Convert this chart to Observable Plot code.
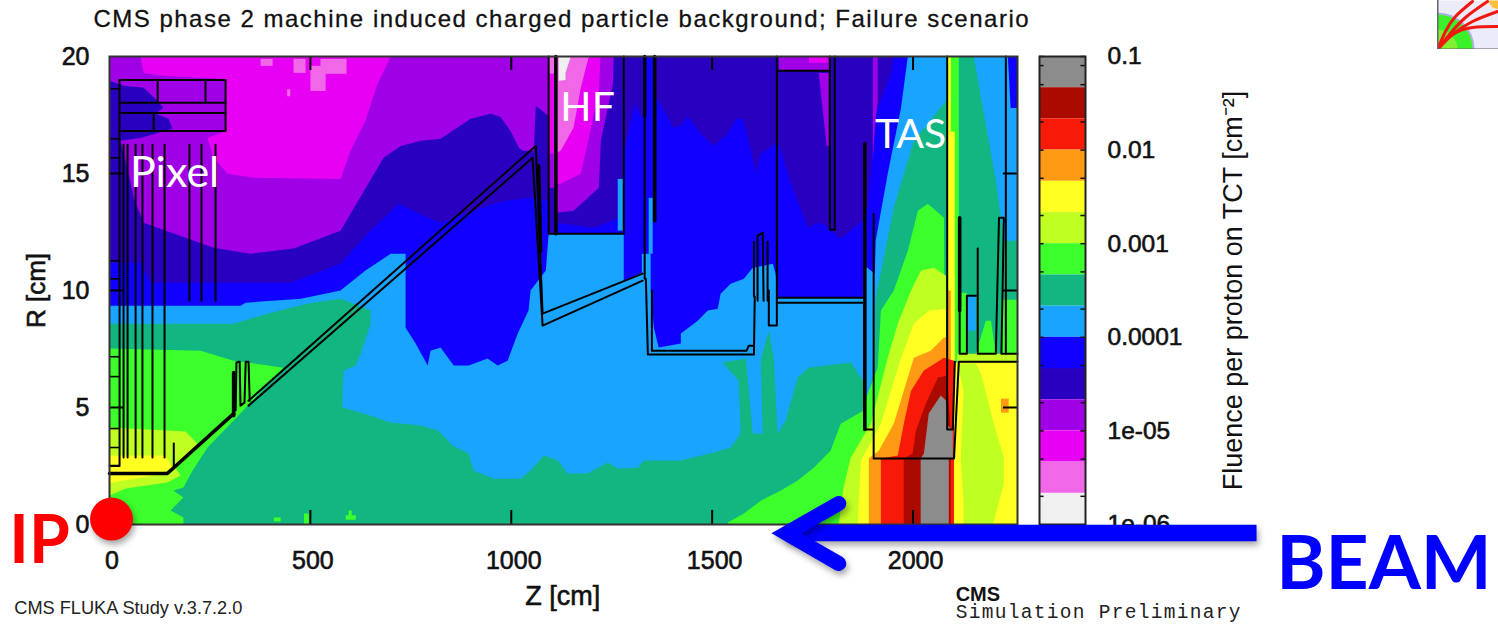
<!DOCTYPE html>
<html><head><meta charset="utf-8">
<script src="https://cdn.jsdelivr.net/npm/d3@7"></script>
<script src="https://cdn.jsdelivr.net/npm/@observablehq/plot@0.6"></script>
<style>
html,body{margin:0;padding:0;background:#fff;width:1498px;height:624px;overflow:hidden}
svg{position:absolute;top:0}
.ax text{stroke:#111;stroke-width:.6px}
.ttl text{letter-spacing:1.5px;stroke:#111;stroke-width:.3px}
.mono text{letter-spacing:1.3px}
.shadow{filter:drop-shadow(2px 4px 3px rgba(0,0,0,.35))}
</style></head><body>
<div id="bar"></div><div id="logo"></div><div id="main"></div>
<script>
// fluence bands, high to low
const GRAY="#8c8c8c",DKRED="#aa0a00",RED="#f81a08",ORANGE="#ff9a14",YELLOW="#ffff22",YG="#bfff22",GREEN="#3cff2c",TEAL="#12b680",LBLUE="#18a4ff",BLUE="#1000ff",NAVY="#2a00c0",PURPLE="#a000e6",MAGENTA="#e800f4",PINK="#f068e8",WHITE="#f0f0f0";
const bandColors=[GRAY,DKRED,RED,ORANGE,YELLOW,YG,GREEN,TEAL,LBLUE,BLUE,NAVY,PURPLE,MAGENTA,PINK,WHITE];
const bandEdges=[0.1,0.0464,0.0215,0.01,0.00464,0.00215,0.001,0.000464,0.000215,0.0001,4.64e-5,2.15e-5,1e-5,4.64e-6,2.15e-6,1e-6];
const barTicks=[0.1,0.08,0.05,0.02,0.01,0.005,0.002,0.001,0.0005,0.0002,0.0001,5e-5,2e-5,1e-5,5e-6,2e-6];
const barLabelValues=[0.1,0.01,0.001,0.0001,1e-5,1e-6];
const barLabels=["0.1","0.01","0.001","0.0001","1e-05","1e-06"];
const xTicks=[0,500,1000,1500,2000], yTicks=[0,5,10,15,20];
const box=(a,b,c,d)=>[[a,b],[c,b],[c,d],[a,d]];

// regions in [Z cm, R cm]
const blueA=[[0,20],[1093,20],[1093,12.43],[1086,10.85],[1048,10],[1043,9.14],[1016,8.16],[991,7],[966,6.79],[941,7.09],[894,6.79],[857,6.79],[824,7.56],[799,7.43],[792,6.79],[762,7.73],[737,8.41],[737,11.57],[700,11.57],[637,10.85],[575,10],[476,9.65],[339,9.48],[326,9.35],[0,9.35]];
const blueB=[[1280,20],[1987,20],[1970,17.8],[1937,14.99],[1907,12.13],[1905,10.72],[1877,11.1],[1875,9.69],[1663,9.69],[1658,10.72],[1651,11.14],[1601,10.97],[1579,10.5],[1546,10.29],[1521,9.86],[1514,9.22],[1489,9.14],[1464,8.71],[1422,8.16],[1422,7.73],[1367,7.56],[1355,8.41],[1347,10],[1347,11.57],[1325,11.57],[1325,10.76],[1280,10.42]];
const magentaTop=box(77,14,700,20);
const purpleTop=[[0,20],[77,20],[85,19.3],[139,19.17],[289,19.04],[289,16.82],[244,16.52],[259,15.67],[294,14.99],[359,14.82],[575,14.77],[600,15.97],[637,17.25],[667,18.83],[700,20],[1093,20],[1093,15.12],[949,17.04],[774,15.97],[682,15.33],[575,12.13],[458,11.49],[351,11.27],[85,12.55],[0,15.97]];
const pinkA=box(376,19.6,406,19.9);
const pinkB=box(458,19.3,488,19.9);
const pinkC=box(500,18.53,538,19.6);
const pinkD=box(525,19.26,590,19.9);
const pinkE=box(442,18.3,450,18.6);
const navyLeft=[[0,18.96],[35,18.75],[85,18.66],[120,18.1],[134,17.81],[115,17.55],[147,17.34],[157,16.91],[77,16.52],[27,16.4],[45,15.24],[60,13.96],[85,12.9],[259,11.83],[351,11.57],[458,11.79],[575,12.55],[682,15.67],[725,16.18],[774,16.4],[824,16.48],[899,17.34],[949,17.55],[973,17.42],[998,16.82],[1023,15.97],[1056,15.97],[1061,17.89],[1093,17.46],[1093,13.83],[1048,13.96],[981,13.83],[941,13.62],[824,12.9],[792,13.11],[720,13.71],[642,12.43],[575,11.14],[451,10.33],[102,10.33],[77,11.19],[0,11.19]];
const navyRight=[[1352,20],[1352,18.53],[1404,16.95],[1422,17.04],[1439,17.46],[1472,16.7],[1504,16.18],[1539,16.7],[1559,17.34],[1576,17.34],[1591,16.4],[1609,14.99],[1621,15.84],[1658,16.27],[1663,16.4],[1696,14.56],[1738,12.68],[1763,12.9],[1783,12.77],[1820,12.21],[1853,12.68],[1875,12.98],[1887,13.54],[1902,16.4],[1912,17.8],[1945,19.26],[1952,20]];
const navyMid=[[1280,20],[1325,20],[1325,17.4],[1307,17.98],[1280,15.84]];
const purpleBox=box(1666,19.39,1793,20);
const magentaBox=box(1741,19.73,1788,20);
const purpleWedge=[[1765,19.3],[1790,19.3],[1790,16.18],[1785,16.18]];
const purpleSliver=[[1900,20],[1912,20],[1912,18.1],[1905,17],[1900,15.5]];
const hfBlue=box(1093,12.43,1280,20);
const hfNavy=[[1111,20],[1280,20],[1280,14.9],[1265,14.69],[1265,13.07],[1205,12.68],[1111,12.9]];
const hfPurple=[[1111,20],[1255,20],[1253,18.83],[1223,16.4],[1218,14.39],[1155,13.41],[1111,13.32]];
const hfMagenta=[[1111,20],[1222,20],[1218,18.53],[1193,16.52],[1173,14.99],[1123,14.56],[1111,14.56]];
const hfPink=[[1111,20],[1193,20],[1173,18.66],[1155,16.95],[1123,15.97],[1111,15.88]];
const hfWhite=[[1118,20],[1148,20],[1135,19.3],[1135,19],[1118,18.96]];
const hfEdgeNavy=box(1093,12.43,1111,14.39), hfEdgePurple=box(1093,14.39,1111,15.84), hfEdgeMagenta=box(1093,15.84,1111,19.26), hfEdgePink=box(1093,19.26,1111,20);
const lblueSliverA=box(1342,11.57,1352,13.96), lblueSliverB=box(1265,12.56,1278,14.77);
const tealMain=[[0,8.58],[309,8.58],[393,9.01],[493,9.44],[575,9.65],[650,9.14],[650,8.58],[625,7.3],[613,6.79],[583,6.58],[580,5.59],[580,5],[650,4.65],[700,4.36],[774,4.23],[819,4.01],[854,3.37],[894,3.03],[906,2.31],[956,1.96],[1023,1.96],[1048,2.31],[1081,2.95],[1116,2.73],[1140,2.18],[1190,2.18],[1240,2.65],[1265,2.39],[1315,2.43],[1330,2.73],[1422,2.73],[1501,3.07],[1546,3.29],[1571,3.89],[1566,6.15],[1526,6.92],[1584,7.09],[1601,3.89],[1626,3.89],[1621,7],[1641,8.28],[1653,7.13],[1663,3.89],[1683,4.44],[1713,6.28],[1740,6.7],[1845,6.92],[1875,6.15],[1885,5.29],[1902,6.58],[1907,9.69],[1952,13.54],[2002,16.4],[2082,18.1],[2082,0],[0,0]];
const greenLeft=[[0,7.52],[227,7.43],[309,7],[433,6.7],[309,4.44],[244,3.29],[207,2.31],[184,1.58],[159,1.45],[184,1.15],[152,.6],[184,.3],[184,0],[0,0]];
const greenSpotA=[[588,.2],[613,.2],[613,.4],[603,.4],[603,.6],[595,.6],[595,.4],[588,.4]];
const greenSpotB=box(409,.13,426,.3), greenSpotC=box(484,0,496,.47);
const ygLeft=[[0,4.14],[189,3.97],[219,3.46],[164,2.43],[177,2.09],[144,1.79],[40,1.54],[0,1.24]];
const yellowLeft=[[0,2.95],[139,2.95],[157,2.43],[110,2.09],[35,1.88],[0,1.75]];
const greenHot=[[1539,0],[1539,.09],[1579,.47],[1621,1.02],[1671,1.45],[1713,1.88],[1753,2.43],[1795,3.16],[1820,4.31],[1877,4.87],[1885,5.5],[1912,6.7],[1920,9.14],[1952,10],[1987,11.7],[2012,13.41],[2037,13.71],[2077,13.11],[2082,0]];
const ygHot=[[1815,0],[1827,1.58],[1845,2.86],[1895,4.31],[1937,7.13],[1962,8.58],[1995,10],[2020,10.85],[2052,10.97],[2082,10.63],[2082,0]];
const yellowHot=[[1862,0],[1870,2.73],[1920,4.31],[1970,7.13],[2002,8.58],[2040,9.14],[2082,9.22],[2082,0]];
const orangeHot=[[1890,0],[1890,2.82],[1915,3.16],[1952,4.31],[1977,5.72],[2002,7.13],[2044,7.43],[2077,7.99],[2082,7.99],[2082,0]];
const redHot=[[1920,0],[1920,2.82],[1962,2.95],[1977,4.31],[1995,5.72],[2027,6.58],[2077,7.13],[2102,7],[2102,0]];
const dkredHot=[[1977,0],[1977,2.82],[1999,3.03],[2007,4.01],[2032,5.17],[2062,6.28],[2084,6.36],[2094,4.01],[2094,0]];
const grayHot=[[2019,0],[2019,2.82],[2027,3.03],[2039,4.74],[2069,5.51],[2082,5.3],[2087,4.23],[2099,4.01],[2099,2.82],[2089,2.82],[2089,0]];
const tealRight=box(2082,6.92,2260,20);
const stripGreen=box(2087,7,2114,20), stripYellowLow=box(2087,7,2104,16.8), stripYellowTop=box(2087,16.8,2094,20), stripOrange=box(2084,7,2094,10);
const lblueWedge=[[2151,20],[2260,20],[2260,12.13],[2226,12.13],[2206,14.69],[2181,17.12]];
const blueCorner=[[2236,20],[2260,20],[2260,17.8],[2243,17.8]];
const lbluePatch=box(2136,8.28,2156,9.78);
const greenPatchA=[[2156,7.3],[2181,8.71],[2194,8.71],[2206,7.3]], greenPatchB=box(2219,7.3,2260,9.6), greenPatchC=box(2114,7.3,2134,9.9);
const ygBand=box(2110,6.92,2260,7.3);
const yellowBase=box(2102,0,2260,6.92);
const ygCenter=[[2114,6.88],[2156,6.88],[2169,6.45],[2201,4.31],[2226,2.86],[2226,1.75],[2199,0],[2126,0],[2126,.9],[2119,2.86],[2126,5.72],[2114,6.58]];
const orangeSpot=box(2219,4.78,2238,5.38);
const baseField=box(0,0,2260,20);

const layers=[[baseField,LBLUE],[blueA,BLUE],[blueB,BLUE],[magentaTop,MAGENTA],[pinkA,PINK],[pinkB,PINK],[pinkC,PINK],[pinkD,PINK],[pinkE,PINK],[purpleTop,PURPLE],[navyLeft,NAVY],[navyRight,NAVY],[navyMid,NAVY],[purpleBox,PURPLE],[magentaBox,MAGENTA],[purpleWedge,PURPLE],[purpleSliver,PURPLE],
[hfBlue,BLUE],[hfNavy,NAVY],[hfPurple,PURPLE],[hfMagenta,MAGENTA],[hfPink,PINK],[hfWhite,WHITE],[hfEdgeNavy,NAVY],[hfEdgePurple,PURPLE],[hfEdgeMagenta,MAGENTA],[hfEdgePink,PINK],[lblueSliverA,LBLUE],[lblueSliverB,LBLUE],
[tealMain,TEAL],[greenLeft,GREEN],[greenSpotA,GREEN],[greenSpotB,GREEN],[greenSpotC,GREEN],[ygLeft,YG],[yellowLeft,YELLOW],[tealRight,TEAL],[lblueWedge,LBLUE],[blueCorner,BLUE],[lbluePatch,LBLUE],[greenPatchA,GREEN],[greenPatchB,GREEN],[greenPatchC,GREEN],[stripGreen,GREEN],[stripYellowLow,YELLOW],[stripYellowTop,YELLOW],[ygBand,YG],[yellowBase,YELLOW],[ygCenter,YG],[orangeSpot,ORANGE],
[greenHot,GREEN],[ygHot,YG],[yellowHot,YELLOW],[orangeHot,ORANGE],[stripOrange,ORANGE],[redHot,RED],[dkredHot,DKRED],[grayHot,GRAY]];

// detector geometry outlines
const heavyLines=[[[0,2.18],[144,2.18],[309,4.74]],[[1332,20],[1332,17.46]],[[1357,20],[1357,12.98]],[[1880,16.27],[1880,4.06]],[[2116,13.11],[2116,9.14]],[[1068,15.33],[1073,11.7]],[[1111,20],[1111,12.43]],[[309,6.49],[309,4.65]]];
const mediumLines=[[[346,5.29],[1061,16.18],[1078,9.01],[1327,10.72]],[[346,5.08],[1053,15.67],[1078,8.5],[1327,10.42]],[[1093,20],[1093,12.43],[1280,12.43],[1280,20]],[[1332,17.46],[1332,10.5],[1335,10.5],[1340,7.26],[1604,7.26],[1606,9.74]],[[1350,10],[1350,7.43],[1586,7.43],[1591,7.64],[1601,7.64]],[[1604,12.08],[1604,9.74]],[[1613,9.56],[1613,12.34],[1626,12.47],[1628,9.56]],[[1638,12.08],[1638,9.56]],[[1641,10],[1641,8.5],[1661,8.5],[1661,20]],[[1661,9.69],[1877,9.69]],[[1661,9.48],[1877,9.48]],[[1661,19.39],[1793,19.39]],[[1793,20],[1793,12.6],[1805,12.6],[1805,20]],[[1880,4.06],[1900,4.06]],[[1902,13.28],[1902,2.82],[2102,2.82],[2114,6.96],[2260,6.96]],[[2085,20],[2085,4.06],[2099,4.06],[2104,6.96]],[[2116,9.14],[2116,7.3],[2134,7.3],[2134,9.78],[2161,9.78],[2161,7.3],[2206,7.3],[2214,13.11],[2226,13.11],[2220,7.3],[2260,7.3]],[[2161,11.79],[2161,9.78]],[[2231,20],[2231,7.3]],[[314,4.87],[316,6.92],[324,6.96],[326,5.08],[336,5.21],[339,6.96],[346,6.96],[349,5.29]],
[[25,19],[25,2.5],[0,2.5]],[[25,19],[289,19],[289,16.82],[25,16.82]],[[25,18.02],[289,18.02]],[[25,17.59],[289,17.59]],[[120,19],[120,18.02]],[[239,19],[239,18.02]],[[110,17.59],[110,16.82]],
[[35,16.23],[35,2.86]],[[45,16.23],[45,2.86]],[[65,16.23],[65,2.86]],[[82,16.23],[82,2.86]],[[107,16.23],[107,2.86]],[[137,16.23],[137,2.86]],[[199,16.23],[199,9.56]],[[229,16.23],[229,9.56]],[[264,16.23],[264,9.56]],[[160,3.46],[160,2.39]]];
const wallStubR=[18.62,16.48,15.67,11.27,10.5,7.17,6.32,4.1,3.29,2.52];
const innerTickZ=[500,1000,1500,2000], innerTickR=[5,10,15];

// annotation text
const title="CMS phase 2 machine induced charged particle background; Failure scenario";
const barTitle="Fluence per proton on TCT [cm⁻²]";

const lineOf=(pts,o)=>Plot.line(pts,{x:d=>d[0],y:d=>d[1],curve:"linear",...o});
const sans="Liberation Sans", cal="Lato";
const label=(text,z,r,o)=>Plot.text([text],{x:()=>z,y:()=>r,text:d=>d,...o});

// colour bar
const bandRows=bandColors.map((c,i)=>({c,hi:bandEdges[i],lo:bandEdges[i+1]}));
const bar=Plot.plot({width:300,height:624,marginLeft:39,marginRight:215,marginTop:56,marginBottom:100,
  x:{domain:[0,1],axis:null},y:{type:"log",domain:[1e-6,0.1],axis:null},
  style:{fontFamily:sans,background:"transparent"},
  marks:[
    Plot.rect(bandRows,{x1:()=>0,x2:()=>1,y1:"lo",y2:"hi",fill:"c"}),
    Plot.ruleY(barTicks,{x1:0,x2:.1,stroke:"#111",strokeWidth:1.5}),
    Plot.ruleY(barTicks,{x1:.9,x2:1,stroke:"#111",strokeWidth:1.5}),
    Plot.frame({stroke:"#222",strokeWidth:2}),
    Plot.text(barLabelValues,{x:()=>1,y:d=>d,text:(d,i)=>barLabels[i],dx:22,textAnchor:"start",fontSize:24.5,className:"ax",fill:"#111"}),
    Plot.text([barTitle],{x:()=>1,y:()=>3.16e-4,text:d=>d,dx:148,rotate:-90,fontSize:27,fill:"#111",fontFamily:sans})
  ]});
bar.style.left="1000px";
document.getElementById("bar").append(bar);

// logo corner
const logoGreen=[[0,0]], logoInner=[[0,0]];
const logoCurves=[[[0,0],[8,18],[18,33],[35,48]],[[0,0],[12,15],[28,32],[50,48]],[[0,0],[15,15],[35,28],[60,38]],[[0,0],[15,15],[35,22],[60,23]]];
const logoOrange=[[50,49],[61,49],[61,40],[55,42]];
const logoBack=box(0,0,61,49);
const logo=Plot.plot({width:61,height:49,margin:0,x:{domain:[0,61],axis:null},y:{domain:[0,49],axis:null},style:{background:"transparent"},
  marks:[lineOf(logoBack,{fill:"#ecebfa",stroke:"none"}),lineOf(logoOrange,{fill:"#ffc040",stroke:"none"}),
    Plot.dot(logoGreen,{x:d=>d[0],y:d=>d[1],r:36,fill:"#3cf02a",stroke:"#aab2e0",strokeWidth:2}),
    Plot.dot(logoInner,{x:d=>d[0],y:d=>d[1],r:20,fill:"#80f030"}),
    ...logoCurves.map(c=>Plot.line(c,{x:d=>d[0],y:d=>d[1],curve:"natural",stroke:"#f01810",strokeWidth:3})),
    Plot.ruleX([0],{stroke:"#666",strokeWidth:2}),Plot.ruleY([0],{stroke:"#666",strokeWidth:2})]});
logo.style.left="1437px";
document.getElementById("logo").append(logo);

// main map
const main=Plot.plot({width:1498,height:624,marginLeft:109,marginRight:481,marginTop:56,marginBottom:100,
  x:{domain:[0,2260],axis:null},y:{domain:[0,20],axis:null},
  style:{fontFamily:sans,background:"transparent"},
  marks:[
    ...layers.map(([pts,c])=>lineOf(pts,{fill:c,stroke:"none"})),
    ...heavyLines.map(p=>lineOf(p,{stroke:"#000",strokeWidth:3.6})),
    ...mediumLines.map(p=>lineOf(p,{stroke:"#000",strokeWidth:2})),
    Plot.ruleY(wallStubR,{x1:0,x2:25,stroke:"#000",strokeWidth:1.6}),
    Plot.ruleX(innerTickZ,{y1:0,y2:.6,stroke:"#000",strokeWidth:2}),
    Plot.ruleX(innerTickZ,{y1:19.4,y2:20,stroke:"#000",strokeWidth:2}),
    Plot.ruleY(innerTickR,{x1:0,x2:35,stroke:"#000",strokeWidth:2}),
    Plot.ruleY(innerTickR,{x1:2225,x2:2260,stroke:"#000",strokeWidth:2}),
    Plot.frame({stroke:"#333",strokeWidth:2}),
    Plot.axisX(xTicks,{tickSize:0,tickPadding:27,dx:2.5,label:null,tickFormat:d=>String(d),fontSize:25,className:"ax",fill:"#111"}),
    Plot.axisY(yTicks,{tickSize:0,tickPadding:20,label:null,fontSize:25,className:"ax",fill:"#111"}),
    label(title,-40,21.6,{textAnchor:"start",fontSize:24,className:"ttl",fill:"#111"}),
    label("R [cm]",-182,10,{rotate:-90,fontSize:26,className:"ax",fill:"#111"}),
    label("Z [cm]",1128,-3.07,{fontSize:27,className:"ax",fill:"#111"}),
    label("CMS FLUKA Study v.3.7.2.0",-237,-3.59,{textAnchor:"start",fontSize:18.2,fill:"#222"}),
    label("CMS",2106,-2.99,{textAnchor:"start",fontSize:20,fontWeight:"bold",fill:"#111"}),
    label("Simulation Preliminary",2106,-3.72,{textAnchor:"start",fontSize:19.5,fontFamily:"Liberation Mono",className:"mono",fill:"#222"}),
    label("Pixel",162,15.03,{fontSize:43,fontFamily:cal,fill:"#fff"}),
    label("HF",1190,17.8,{fontSize:41,fontFamily:cal,fill:"#fff"}),
    label("TAS",1994,16.65,{fontSize:41,fontFamily:cal,fill:"#fff"}),
    label("IP",-174,-.73,{fontSize:66,fontFamily:cal,fontWeight:"bold",fill:"#f00"}),
    label("BEAM",3172,-1.75,{fontSize:75,fontFamily:cal,fontWeight:"bold",fill:"#00f"}),
    lineOf([[2855,-.36],[1685,-.36]],{stroke:"#00f",strokeWidth:16.5,strokeLinecap:"butt",className:"shadow"}),
    lineOf([[1815,.9],[1685,-.38],[1815,-1.67]],{stroke:"#00f",strokeWidth:15,strokeLinecap:"round",strokeLinejoin:"miter",strokeMiterlimit:10,className:"shadow"}),
    Plot.dot([[5,.23]],{x:d=>d[0],y:d=>d[1],r:21.5,fill:"#f00",className:"shadow"})
  ]});
main.style.left="0";
document.getElementById("main").append(main);
</script></body></html>
